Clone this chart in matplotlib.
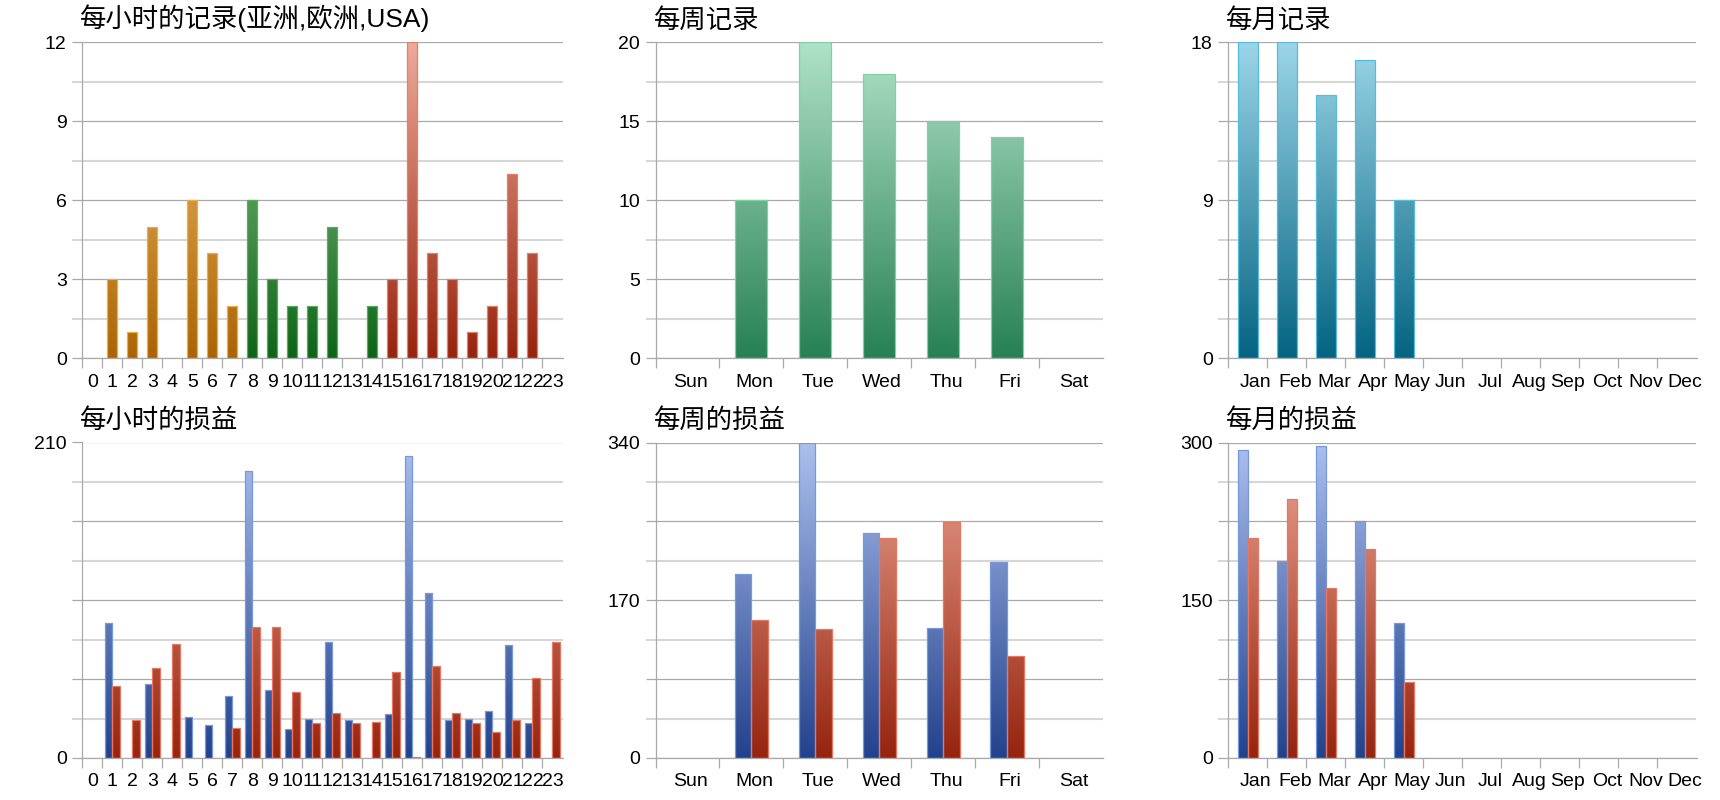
import numpy as np
import matplotlib
matplotlib.use("Agg")
import matplotlib.pyplot as plt
from matplotlib.colors import LinearSegmentedColormap
from matplotlib.ticker import FixedLocator
from matplotlib.transforms import ScaledTranslation

# ---------------- data ----------------
hours = ['0', '1', '2', '3', '4', '5', '6', '7', '8', '9', '10', '11',
         '12', '13', '14', '15', '16', '17', '18', '19', '20', '21', '22', '23']
hourly_region = ['Asia'] * 8 + ['Europe'] * 7 + ['USA'] * 9
hourly_records = [0, 3, 1, 5, 0, 6, 4, 2, 6, 3, 2, 2, 5, 0, 2, 3, 12, 4, 3, 1, 2, 7, 4, 0]
hourly_profit_a = [0, 90, 0, 49, 0, 27, 22, 41, 191, 45, 19, 26, 77, 25, 0, 29,
                   201, 110, 25, 26, 31, 75, 23, 0]
hourly_profit_b = [0, 48, 25, 60, 76, 0, 0, 20, 87, 87, 44, 23, 30, 23, 24, 57,
                   0.5, 61, 30, 23, 17, 25, 53, 77]

days = ['Sun', 'Mon', 'Tue', 'Wed', 'Thu', 'Fri', 'Sat']
weekly_records = [0, 10, 20, 18, 15, 14, 0]
weekly_profit_a = [0, 198, 339, 243, 140, 211, 0]
weekly_profit_b = [0, 149, 139, 237, 254, 110, 0]

months = ['Jan', 'Feb', 'Mar', 'Apr', 'May', 'Jun', 'Jul', 'Aug', 'Sep', 'Oct', 'Nov', 'Dec']
monthly_records = [18, 18, 15, 17, 9, 0, 0, 0, 0, 0, 0, 0]
monthly_profit_a = [293, 187, 297, 225, 128, 0, 0, 0, 0, 0, 0, 0]
monthly_profit_b = [209, 246, 162, 199, 72, 0, 0, 0, 0, 0, 0, 0]

titles = ['每小时的记录(亚洲,欧洲,USA)', '每周记录', '每月记录',
          '每小时的损益', '每周的损益', '每月的损益']

# ---------------- style ----------------
W, H, DPI = 1720, 800, 100
TICK_FONT = ['Liberation Sans', 'DejaVu Sans']
TITLE_FONT = ['Liberation Sans', 'Noto Sans CJK SC', 'DejaVu Sans']
MAJ_C = '#a9a9a9'
MIN_C = '#d6d6d6'
TICK_FS = 14

def rgb(*c):
    return tuple(v / 255 for v in c)

PAL = {
    'Asia':   (rgb(248, 200, 118), rgb(170, 100, 4), rgb(245, 172, 60)),
    'Europe': (rgb(150, 205, 150), rgb(14, 100, 24), rgb(85, 175, 90)),
    'USA':    (rgb(238, 170, 155), rgb(150, 36, 14), rgb(235, 125, 100)),
    'week':   (rgb(176, 226, 200), rgb(40, 128, 84), rgb(120, 212, 160)),
    'month':  (rgb(156, 214, 232), rgb(4, 100, 130), rgb(85, 188, 222)),
    'blue':   (rgb(172, 192, 238), rgb(34, 66, 140), rgb(118, 152, 226)),
    'red':    (rgb(238, 166, 150), rgb(150, 36, 14), rgb(232, 118, 96)),
}

plt.rcParams['font.family'] = TICK_FONT

fig = plt.figure(figsize=(W / DPI, H / DPI), dpi=DPI)
fig.patch.set_facecolor('white')

cols = [(82.3, 480.2), (655.5, 447.5), (1228.3, 468.2)]
rows = [(42.3, 358.3), (442.5, 758.0)]


def make_ax(r, c):
    x0, w = cols[c]
    top, bot = rows[r]
    return fig.add_axes([x0 / W, 1 - bot / H, w / W, (bot - top) / H])


grad = np.linspace(0, 1, 256).reshape(-1, 1)


def gradient_bars(ax, x, heights, width, key_list, ymax):
    keys = key_list if isinstance(key_list, list) else [key_list] * len(heights)
    edges = [PAL[k][2] for k in keys]
    bars = ax.bar(x, heights, width, facecolor='none', edgecolor=edges,
                  linewidth=0.9, zorder=3)
    for b, h, k in zip(bars, heights, keys):
        if h <= 0:
            b.set_visible(False)
            continue
        top_c, bot_c, _ = PAL[k]
        cmap = LinearSegmentedColormap.from_list('g', [bot_c, top_c])
        x0 = b.get_x()
        im = ax.imshow(grad, extent=(x0, x0 + b.get_width(), 0, ymax), origin='lower',
                       cmap=cmap, aspect='auto', zorder=2, interpolation='bilinear')
        im.set_clip_path(b)
    return bars


def style_axes(ax, labels, ymax, ylabels, xoff_px=0):
    n = len(labels)
    ax.set_xlim(-0.5, n - 0.5)
    ax.set_ylim(0, ymax)
    ax.set_axisbelow(True)
    for s in ('top', 'right'):
        ax.spines[s].set_visible(False)
    for s in ('left', 'bottom'):
        ax.spines[s].set_color(MAJ_C)
        ax.spines[s].set_linewidth(0.9)
    ax.set_xticks(np.arange(n))
    ax.set_xticklabels(labels, fontsize=TICK_FS, family=TICK_FONT)
    ax.xaxis.set_minor_locator(FixedLocator(np.arange(n) - 0.5))
    ax.tick_params(axis='x', which='major', length=0, pad=11)
    ax.tick_params(axis='x', which='minor', length=7.2, color=MAJ_C, width=0.9)
    maj = np.linspace(0, ymax, 5)
    mnr = maj[:-1] + ymax / 8
    ax.set_yticks(maj)
    ax.set_yticklabels(ylabels, fontsize=TICK_FS, family=TICK_FONT)
    ax.yaxis.set_minor_locator(FixedLocator(mnr))
    ax.tick_params(axis='y', which='major', length=7.2, color=MAJ_C, width=0.9, pad=4)
    ax.tick_params(axis='y', which='minor', length=7.2, color=MIN_C, width=1.4)
    ax.grid(which='major', axis='y', color=MAJ_C, linewidth=0.9)
    ax.grid(which='minor', axis='y', color=MIN_C, linewidth=1.5)
    ax.grid(which='major', axis='x', visible=False)
    if xoff_px:
        off = ScaledTranslation(xoff_px / DPI, 0, fig.dpi_scale_trans)
        for lbl in ax.get_xticklabels():
            lbl.set_transform(lbl.get_transform() + off)


def add_title(ax, text, baseline_px):
    x0 = ax.get_position().x0 - 2 / W
    fig.text(x0, 1 - baseline_px / H, text, fontsize=19, family=TITLE_FONT,
             ha='left', va='baseline', color='black')


# ---- hourly records
ax = make_ax(0, 0)
xh = np.arange(len(hours))
gradient_bars(ax, xh, hourly_records, 0.5, hourly_region, 12)
style_axes(ax, hours, 12, ['0', '3', '6', '9', '12'])
add_title(ax, titles[0], 27.5)

# ---- weekly records
ax = make_ax(0, 1)
xd = np.arange(len(days))
gradient_bars(ax, xd, weekly_records, 0.5, 'week', 20)
style_axes(ax, days, 20, ['0', '5', '10', '15', '20'], xoff_px=3)
add_title(ax, titles[1], 27.5)

# ---- monthly records
ax = make_ax(0, 2)
xm = np.arange(len(months))
gradient_bars(ax, xm, monthly_records, 0.5, 'month', 18)
style_axes(ax, months, 18, ['0', '', '9', '', '18'], xoff_px=8)
add_title(ax, titles[2], 27.5)

# ---- hourly profit
ax = make_ax(1, 0)
bw = 0.38
gradient_bars(ax, xh - bw / 2, hourly_profit_a, bw, 'blue', 210)
gradient_bars(ax, xh + bw / 2, hourly_profit_b, bw, 'red', 210)
style_axes(ax, hours, 210, ['0', '', '', '', '210'])
add_title(ax, titles[3], 427.5)

# ---- weekly profit
ax = make_ax(1, 1)
bw = 0.26
gradient_bars(ax, xd - bw / 2, weekly_profit_a, bw, 'blue', 340)
gradient_bars(ax, xd + bw / 2, weekly_profit_b, bw, 'red', 340)
style_axes(ax, days, 340, ['0', '', '170', '', '340'], xoff_px=3)
add_title(ax, titles[4], 427.5)

# ---- monthly profit
ax = make_ax(1, 2)
bw = 0.25
gradient_bars(ax, xm - bw / 2, monthly_profit_a, bw, 'blue', 300)
gradient_bars(ax, xm + bw / 2, monthly_profit_b, bw, 'red', 300)
style_axes(ax, months, 300, ['0', '', '150', '', '300'], xoff_px=8)
add_title(ax, titles[5], 427.5)

fig.savefig('out.png', dpi=DPI, facecolor='white')
